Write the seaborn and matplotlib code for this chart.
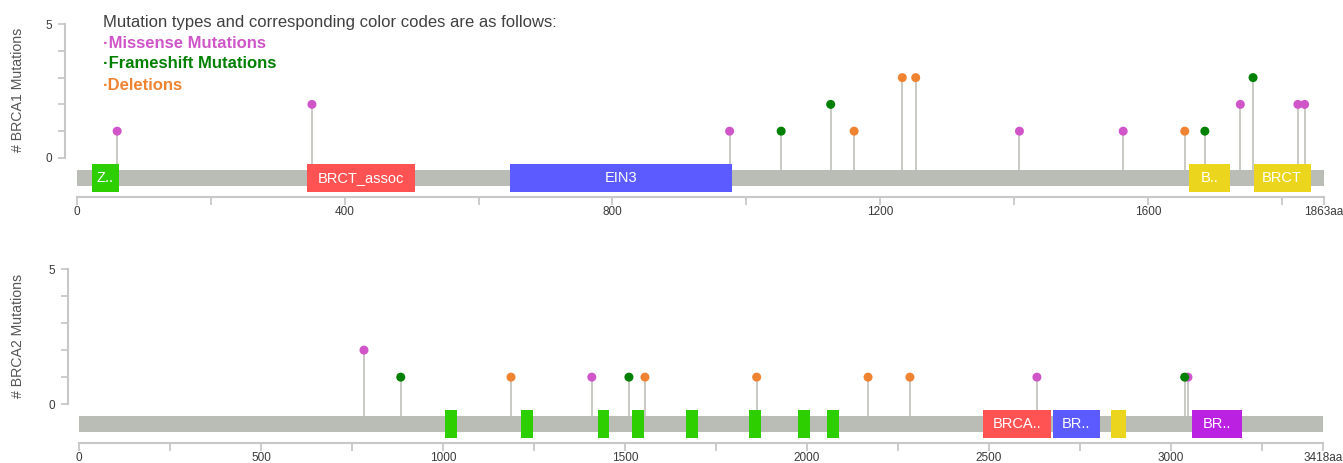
import numpy as np
import pandas as pd
import matplotlib
matplotlib.use('Agg')
import matplotlib.pyplot as plt
import seaborn as sns

# ---------------------------------------------------------
# Data
# ---------------------------------------------------------
brca1_len = 1863
brca1_pos = [60, 351, 975, 1052, 1126, 1161, 1233, 1253, 1408, 1563, 1655, 1685, 1738, 1757, 1824, 1834]
brca1_count = [1, 2, 1, 1, 2, 1, 3, 3, 1, 1, 1, 1, 2, 3, 2, 2]
brca1_type = ['Missense', 'Missense', 'Missense', 'Frameshift', 'Frameshift', 'Deletion',
              'Deletion', 'Deletion', 'Missense', 'Missense', 'Deletion', 'Frameshift',
              'Missense', 'Frameshift', 'Missense', 'Missense']
brca1_dom_start = [22, 344, 647, 1662, 1758]
brca1_dom_end = [63, 505, 978, 1723, 1843]
brca1_dom_name = ['Z..', 'BRCT_assoc', 'EIN3', 'B..', 'BRCT']
brca1_dom_color = ['#2dcf00', '#ff5353', '#5b5bff', '#ebd61d', '#ebd61d']

brca2_len = 3418
brca2_pos = [783, 884, 1187, 1409, 1511, 1555, 1862, 2168, 2283, 2632, 3047, 3038]
brca2_count = [2, 1, 1, 1, 1, 1, 1, 1, 1, 1, 1, 1]
brca2_type = ['Missense', 'Frameshift', 'Deletion', 'Missense', 'Frameshift', 'Deletion',
              'Deletion', 'Deletion', 'Deletion', 'Missense', 'Missense', 'Frameshift']
brca2_dom_start = [1005, 1214, 1426, 1519, 1668, 1841, 1975, 2055, 2484, 2676, 2835, 3058]
brca2_dom_end = [1038, 1247, 1456, 1552, 1700, 1874, 2008, 2088, 2670, 2805, 2876, 3195]
brca2_dom_name = ['', '', '', '', '', '', '', '', 'BRCA..', 'BR..', '', 'BR..']
brca2_dom_color = ['#2dcf00'] * 8 + ['#ff5353', '#5b5bff', '#ebd61d', '#ba21e0']

mut_colors = {'Missense': '#cf55c8', 'Frameshift': '#008000', 'Deletion': '#ef8332'}
bar_gray = '#babdb6'
axis_gray = '#c8c8c8'

sns.set_style('white')
plt.rcParams['font.family'] = ['Liberation Sans', 'DejaVu Sans']

fig = plt.figure(figsize=(13.43, 4.63), dpi=100)


def lollipop(ax, length, pos, count, mtype, dstart, dend, dname, dcolor,
             ylim, major, minor, spine_out):
    df = pd.DataFrame({'pos': pos, 'count': count, 'type': mtype})
    # protein backbone
    ax.barh(y=-0.74, width=length, left=0, height=0.59, color=bar_gray,
            edgecolor='none', linewidth=0, zorder=1)
    # stems
    ax.vlines(df['pos'], -0.45, df['count'], color='#c9cac4', linewidth=1.4, zorder=0)
    # domains
    for s, e, n, c in zip(dstart, dend, dname, dcolor):
        ax.barh(y=-0.74, width=e - s, left=s, height=1.05, color=c,
                edgecolor='none', linewidth=0, zorder=2)
        if n:
            ax.text((s + e) / 2, -0.74, n, color='white', fontsize=10.5,
                    ha='center', va='center', zorder=3)
    sns.scatterplot(data=df, x='pos', y='count', hue='type', palette=mut_colors,
                    s=42, edgecolor='none', legend=False, ax=ax, zorder=4)

    ax.set_xlim(0, length)
    ax.set_ylim(*ylim)
    ax.set_xlabel('')
    ax.set_ylabel('')
    for side in ['top', 'right']:
        ax.spines[side].set_visible(False)
    for side in ['left', 'bottom']:
        ax.spines[side].set_color(axis_gray)
        ax.spines[side].set_linewidth(1.5)
    ax.spines['left'].set_bounds(0, 5)
    ax.spines['left'].set_position(('outward', spine_out))
    ax.spines['bottom'].set_bounds(0, length)

    ax.set_yticks([0, 5])
    ax.set_yticklabels(['0', '5'])
    ax.set_yticks([1, 2, 3, 4], minor=True)
    ax.set_xticks(major + [length])
    ax.set_xticklabels([str(m) for m in major] + [f'{length}aa'])
    ax.set_xticks(minor, minor=True)
    ax.tick_params(axis='both', which='both', direction='out', color=axis_gray,
                   width=1.3, labelsize=8.5, labelcolor='#3a3a3a',
                   bottom=True, left=True)
    ax.tick_params(axis='y', which='both', length=5, pad=4)
    ax.tick_params(axis='x', which='both', length=6, pad=0.5)
    ax.grid(False)


ax1 = fig.add_axes([77 / 1343, 1 - 197 / 463, 1247 / 1343, 197 / 463])
lollipop(ax1, brca1_len, brca1_pos, brca1_count, brca1_type,
         brca1_dom_start, brca1_dom_end, brca1_dom_name, brca1_dom_color,
         (-1.46, 5.9), [0, 400, 800, 1200, 1600], [200, 600, 1000, 1400, 1800], 8.6)

ax2 = fig.add_axes([79 / 1343, 1 - 443 / 463, 1244 / 1343, 193 / 463])
lollipop(ax2, brca2_len, brca2_pos, brca2_count, brca2_type,
         brca2_dom_start, brca2_dom_end, brca2_dom_name, brca2_dom_color,
         (-1.44, 5.71), [0, 500, 1000, 1500, 2000, 2500, 3000],
         [250, 750, 1250, 1750, 2250, 2750, 3250], 7.9)

# y labels
fig.text(18 / 1343, 1 - 90 / 463, '# BRCA1 Mutations', rotation=90, fontsize=10.2,
         color='#555555', ha='center', va='center')
fig.text(18 / 1343, 1 - 336 / 463, '# BRCA2 Mutations', rotation=90, fontsize=10.2,
         color='#555555', ha='center', va='center')

# legend text
fig.text(103 / 1343, 1 - 22 / 463, 'Mutation types and corresponding color codes are as follows:',
         fontsize=12, color='#404040', ha='left', va='center')
legend_rows = [('\u00b7Missense Mutations', mut_colors['Missense']),
               ('\u00b7Frameshift Mutations', mut_colors['Frameshift']),
               ('\u00b7Deletions', mut_colors['Deletion'])]
for i, (txt, col) in enumerate(legend_rows):
    fig.text(103 / 1343, 1 - (43 + 21 * i) / 463, txt, fontsize=12, fontweight='bold',
             color=col, ha='left', va='center')

plt.savefig('out.png', dpi=100)
plt.close()
